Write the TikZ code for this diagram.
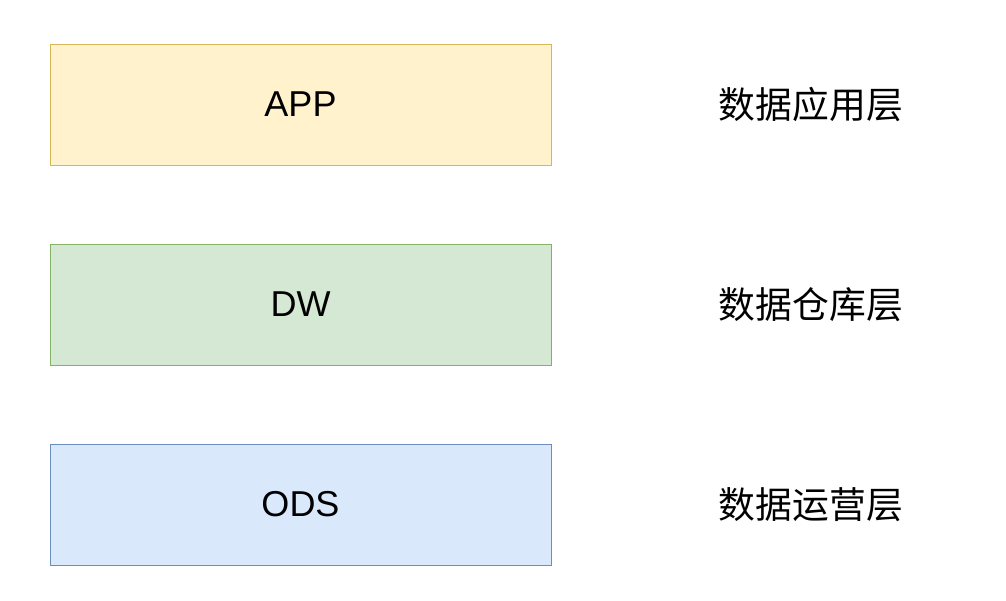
\documentclass[tikz,border=0pt]{standalone}
\usepackage{fontspec}
\setmainfont{Liberation Sans}
\newfontfamily\cjk{Noto Sans CJK SC}
\usetikzlibrary{positioning}
\definecolor{appfill}{HTML}{FFF2CC}
\definecolor{appdraw}{HTML}{D6B656}
\definecolor{dwfill}{HTML}{D5E8D4}
\definecolor{dwdraw}{HTML}{82B366}
\definecolor{odsfill}{HTML}{DAE8FC}
\definecolor{odsdraw}{HTML}{6C8EBF}
\tikzset{ % layer boxes and their names
    layer/.style={rectangle, draw, line width=0.5pt, text centered, minimum width=250.5pt, minimum height=60.5pt, inner sep=0pt, font=\fontsize{18}{21}\selectfont},
    layername/.style={inner sep=0pt, anchor=west, font=\fontsize{18.4}{21}\selectfont\cjk}
}
\begin{document}
\begin{tikzpicture}[x=0.5pt, y=-0.5pt, node distance=39pt]
	\useasboundingbox (0,0) rectangle (1006,600);
	%Boxes
	\node[layer, fill=appfill, draw=appdraw]             (app) at (300.5,104.5) {APP};
	\node[layer, fill=dwfill, draw=dwdraw, below=of app]  (dw)  {DW};
	\node[layer, fill=odsfill, draw=odsdraw, below=of dw] (ods) {ODS};
	%Names
	\node[layername, right=83.5pt of app] (appname) {数据应用层};
	\node[layername, right=83.5pt of dw]  (dwname)  {数据仓库层};
	\node[layername, right=83.5pt of ods] (odsname) {数据运营层};
\end{tikzpicture}
\end{document}
